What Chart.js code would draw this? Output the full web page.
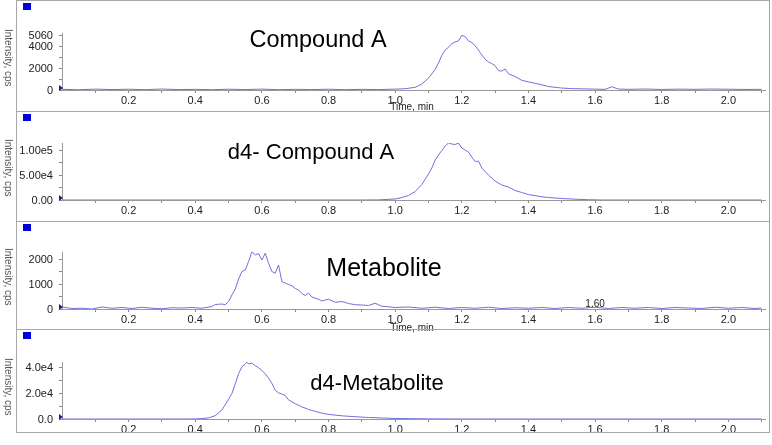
<!DOCTYPE html>
<html>
<head>
<meta charset="utf-8">
<script src="https://cdn.jsdelivr.net/npm/chart.js@4.4.1/dist/chart.umd.min.js"></script>
<style>
  body { margin: 0; background: #fff; }
  #wrap { position: relative; width: 772px; height: 445px; }
  #wrap canvas { position: absolute; left: 0; }
  .ylab { position: absolute; font: 11px 'Liberation Sans', Arial, sans-serif; line-height: 11px; color: #222; white-space: nowrap; }
  .ycap { position: absolute; left: 3px; width: 11px; font: 10px 'Liberation Sans', Arial, sans-serif; line-height: 11px; color: #555; writing-mode: vertical-rl; text-align: center; white-space: nowrap; }
</style>
</head>
<body>
<div id="wrap">
  <canvas id="p1" width="772" height="112" style="top:0px"></canvas>
  <canvas id="p2" width="772" height="112" style="top:111px"></canvas>
  <canvas id="p3" width="772" height="112" style="top:221px"></canvas>
  <canvas id="p4" width="772" height="104" style="top:329px"></canvas>
</div>
<script>
// x axis ticks (minutes), shared by all panels
const xTickValues = [0.1, 0.2, 0.3, 0.4, 0.5, 0.6, 0.7, 0.8, 0.9, 1.0, 1.1, 1.2, 1.3, 1.4, 1.5, 1.6, 1.7, 1.8, 1.9, 2.0, 2.1];
const xTickLabels = ['', '0.2', '', '0.4', '', '0.6', '', '0.8', '', '1.0', '', '1.2', '', '1.4', '', '1.6', '', '1.8', '', '2.0', ''];

// Compound A
const compoundATimes = [0.00, 0.05, 0.10, 0.15, 0.20, 0.25, 0.30, 0.35, 0.40, 0.45, 0.50, 0.55, 0.60, 0.65, 0.70, 0.75, 0.80, 0.85, 0.90, 0.95, 1.00, 1.03, 1.06, 1.08, 1.10, 1.12, 1.13, 1.14, 1.15, 1.16, 1.17, 1.18, 1.19, 1.20, 1.21, 1.22, 1.23, 1.24, 1.25, 1.26, 1.27, 1.28, 1.29, 1.30, 1.31, 1.32, 1.33, 1.34, 1.36, 1.38, 1.40, 1.42, 1.44, 1.46, 1.48, 1.50, 1.53, 1.56, 1.60, 1.63, 1.65, 1.67, 1.70, 1.75, 1.80, 1.85, 1.90, 1.95, 2.00, 2.05, 2.10];
const compoundAValues = [60, 30, 80, 40, 70, 30, 90, 40, 60, 30, 70, 40, 80, 30, 60, 40, 70, 30, 60, 40, 80, 120, 250, 550, 1100, 1900, 2500, 3200, 3700, 3950, 4300, 4450, 4550, 5060, 4950, 4550, 4400, 4100, 3700, 3250, 2850, 2600, 2450, 2250, 1800, 1750, 1950, 1500, 1250, 900, 750, 620, 480, 320, 250, 180, 130, 110, 80, 60, 300, 90, 60, 90, 50, 80, 60, 90, 70, 50, 60];
const compoundATicks = [0, 1000, 2000, 3000, 4000, 5060];
const compoundALabels = ['0', '', '2000', '', '4000', '5060'];

// d4- Compound A
const d4CompoundATimes = [0.00, 0.10, 0.20, 0.30, 0.40, 0.50, 0.60, 0.70, 0.80, 0.90, 0.95, 1.00, 1.02, 1.04, 1.06, 1.08, 1.10, 1.11, 1.12, 1.13, 1.14, 1.15, 1.16, 1.17, 1.18, 1.19, 1.20, 1.21, 1.22, 1.23, 1.24, 1.25, 1.26, 1.28, 1.30, 1.32, 1.34, 1.36, 1.38, 1.40, 1.43, 1.46, 1.50, 1.54, 1.58, 1.62, 1.70, 1.80, 1.90, 2.00, 2.10];
const d4CompoundAValues = [0, 0, 0, 0, 0, 0, 0, 0, 0, 0, 300, 2000, 5000, 9000, 17000, 31000, 52000, 64000, 80000, 90000, 99000, 108000, 114000, 112000, 111000, 114000, 104000, 100000, 96000, 86000, 77000, 78000, 64000, 50000, 38000, 30000, 26000, 19000, 15000, 11000, 7500, 5000, 3000, 1600, 600, 0, 0, 0, 0, 0, 0];
const d4CompoundATicks = [0, 25000, 50000, 75000, 100000];
const d4CompoundALabels = ['0.00', '', '5.00e4', '', '1.00e5'];

// Metabolite
const metaboliteTimes = [0.00, 0.03, 0.06, 0.09, 0.12, 0.15, 0.18, 0.21, 0.24, 0.27, 0.30, 0.33, 0.36, 0.39, 0.42, 0.45, 0.46, 0.47, 0.48, 0.49, 0.50, 0.51, 0.52, 0.53, 0.54, 0.55, 0.56, 0.57, 0.58, 0.59, 0.60, 0.61, 0.62, 0.63, 0.64, 0.65, 0.66, 0.67, 0.68, 0.69, 0.70, 0.71, 0.72, 0.73, 0.74, 0.75, 0.76, 0.77, 0.78, 0.79, 0.80, 0.82, 0.84, 0.86, 0.88, 0.90, 0.92, 0.94, 0.96, 0.98, 1.00, 1.04, 1.08, 1.12, 1.16, 1.20, 1.24, 1.28, 1.32, 1.36, 1.40, 1.44, 1.48, 1.52, 1.56, 1.60, 1.64, 1.68, 1.72, 1.76, 1.80, 1.84, 1.88, 1.92, 1.96, 2.00, 2.04, 2.08, 2.10];
const metaboliteValues = [80, 20, 30, 0, 80, 30, 60, 20, 70, 30, 10, 50, 40, 60, 30, 100, 180, 190, 200, 170, 300, 560, 800, 1200, 1500, 1560, 1900, 2290, 2160, 2220, 1960, 2230, 1830, 1500, 1430, 1760, 1090, 1040, 980, 930, 820, 760, 620, 540, 640, 480, 430, 390, 320, 360, 390, 270, 300, 220, 170, 160, 140, 230, 110, 90, 60, 80, 30, 70, 20, 60, 30, 70, 20, 50, 30, 60, 20, 60, 30, 70, 20, 60, 30, 60, 20, 60, 40, 20, 70, 30, 60, 20, 40];
const metaboliteTicks = [0, 500, 1000, 1500, 2000];
const metaboliteLabels = ['0', '', '1000', '', '2000'];

// d4-Metabolite
const d4MetaboliteTimes = [0.00, 0.10, 0.20, 0.30, 0.38, 0.40, 0.42, 0.44, 0.46, 0.48, 0.50, 0.51, 0.52, 0.53, 0.54, 0.55, 0.555, 0.56, 0.57, 0.58, 0.59, 0.60, 0.61, 0.62, 0.63, 0.64, 0.65, 0.66, 0.67, 0.68, 0.70, 0.72, 0.74, 0.76, 0.78, 0.80, 0.84, 0.88, 0.92, 0.96, 1.00, 1.05, 1.10, 1.20, 1.40, 1.60, 1.80, 2.00, 2.10];
const d4MetaboliteValues = [0, 0, 0, 0, 0, 100, 300, 900, 2600, 7000, 15500, 20000, 27500, 35500, 41000, 43000, 44600, 43200, 43800, 41800, 40200, 38000, 35500, 32000, 28000, 22500, 20500, 19500, 18500, 15000, 12000, 9500, 7500, 6000, 4600, 3600, 2500, 1800, 1200, 800, 400, 250, 100, 0, 0, 0, 0, 0, 0];
const d4MetaboliteTicks = [0, 10000, 20000, 30000, 40000];
const d4MetaboliteLabels = ['0.0', '', '2.0e4', '', '4.0e4'];

const lineColor = 'rgb(112, 112, 220)';
const frameColor = '#a8a8a8';
const axisFont = { family: 'Liberation Sans, Arial, sans-serif', size: 11 };
const smallFont = '10px Liberation Sans, Arial, sans-serif';

// draws the panel frame, name, x caption and markers
const chromDecor = {
  id: 'chromDecor',
  afterDraw(chart, args, opts) {
    const ctx = chart.ctx;
    const area = chart.chartArea;
    const h = opts.frameHeight;
    const y0 = chart.scales.y.getPixelForValue(0);

    // frame
    ctx.save();
    ctx.strokeStyle = frameColor;
    ctx.lineWidth = 1;
    ctx.beginPath();
    ctx.moveTo(16.5, 0); ctx.lineTo(16.5, h);
    ctx.moveTo(769.5, 0); ctx.lineTo(769.5, h);
    ctx.moveTo(16, 0.5); ctx.lineTo(770, 0.5);
    if (opts.bottomBorder) { ctx.moveTo(16, h - 0.5); ctx.lineTo(770, h - 0.5); }
    ctx.stroke();
    ctx.restore();

    // blue square and start marker
    ctx.save();
    ctx.fillStyle = '#0000dd';
    ctx.fillRect(23, 3, 8, 7);
    ctx.fillStyle = '#20208a';
    ctx.beginPath();
    ctx.moveTo(area.left - 3, y0 - 5);
    ctx.lineTo(area.left + 1, y0 - 2);
    ctx.lineTo(area.left - 3, y0 + 1);
    ctx.closePath();
    ctx.fill();
    ctx.restore();

    // x caption, peak label, compound name
    ctx.save();
    ctx.textAlign = 'center';
    ctx.textBaseline = 'middle';
    ctx.fillStyle = '#222';
    ctx.font = smallFont;
    if (opts.timeLabel) ctx.fillText('Time, min', 412, 107);
    if (opts.peakLabel) ctx.fillText(opts.peakLabel, chart.scales.x.getPixelForValue(1.6), y0 - 5);
    ctx.fillStyle = '#000';
    ctx.font = opts.titleSize + 'px Liberation Sans, Arial, sans-serif';
    ctx.fillText(opts.title, opts.titleX, opts.titleY);
    ctx.restore();
  }
};

// y tick labels and y caption as page text, placed with the chart's y scale
function addYText(chart, canvas, tickValues, tickLabels) {
  const wrap = document.getElementById('wrap');
  const area = chart.chartArea;
  const yScale = chart.scales.y;
  tickValues.forEach((v, i) => {
    if (!tickLabels[i]) return;
    const d = document.createElement('div');
    d.className = 'ylab';
    d.textContent = tickLabels[i];
    d.style.top = (canvas.offsetTop + yScale.getPixelForValue(v) - 5.5) + 'px';
    d.style.right = (772 - (area.left - 9)) + 'px';
    wrap.appendChild(d);
  });
  const cap = document.createElement('div');
  cap.className = 'ycap';
  cap.textContent = 'Intensity, cps';
  cap.style.top = (canvas.offsetTop + area.top - 4) + 'px';
  cap.style.height = (area.bottom - area.top) + 'px';
  wrap.appendChild(cap);
}

function makePanel(id, times, values, yMax, tickValues, tickLabels, layout, decor) {
  const canvas = document.getElementById(id);
  const chart = new Chart(canvas.getContext('2d'), {
    type: 'line',
    data: {
      datasets: [{
        data: times.map((t, i) => ({ x: t, y: values[i] })),
        borderColor: lineColor,
        borderWidth: 1,
        pointRadius: 0,
        tension: 0,
        fill: false,
      }]
    },
    options: {
      responsive: false,
      animation: false,
      devicePixelRatio: 1,
      layout: { padding: { top: layout.top, right: 7, left: 0, bottom: 0 } },
      scales: {
        x: {
          type: 'linear',
          min: 0,
          max: 2.11,
          afterBuildTicks: (scale) => { scale.ticks = xTickValues.map(v => ({ value: v })); },
          afterFit: (scale) => { scale.height = layout.xHeight; },
          ticks: {
            autoSkip: false,
            maxRotation: 0,
            padding: 1,
            color: '#222',
            font: axisFont,
            callback: (v) => xTickLabels[xTickValues.indexOf(v)],
          },
          grid: { drawOnChartArea: false, drawTicks: true, tickLength: 3, color: '#888' },
          border: { display: true, color: '#999' },
        },
        y: {
          min: 0,
          max: yMax,
          afterBuildTicks: (scale) => { scale.ticks = tickValues.map(v => ({ value: v })); },
          afterFit: (scale) => { scale.width = 62; },
          ticks: { display: false, autoSkip: false },
          grid: { drawOnChartArea: false, drawTicks: true, tickLength: 3, color: '#888' },
          border: { display: true, color: '#999' },
        }
      },
      plugins: {
        legend: { display: false },
        tooltip: { enabled: false },
        chromDecor: decor,
      }
    },
    plugins: [chromDecor]
  });
  addYText(chart, canvas, tickValues, tickLabels);
  return chart;
}

makePanel('p1', compoundATimes, compoundAValues, 5280, compoundATicks, compoundALabels,
  { top: 33, xHeight: 22 },
  { title: 'Compound A', titleX: 318, titleY: 41, titleSize: 23.5, timeLabel: true, frameHeight: 112 });

makePanel('p2', d4CompoundATimes, d4CompoundAValues, 114000, d4CompoundATicks, d4CompoundALabels,
  { top: 32, xHeight: 23 },
  { title: 'd4- Compound A', titleX: 311, titleY: 42, titleSize: 22, frameHeight: 112 });

makePanel('p3', metaboliteTimes, metaboliteValues, 2280, metaboliteTicks, metaboliteLabels,
  { top: 31, xHeight: 24 },
  { title: 'Metabolite', titleX: 384, titleY: 48, titleSize: 25, timeLabel: true, peakLabel: '1.60', frameHeight: 112 });

makePanel('p4', d4MetaboliteTimes, d4MetaboliteValues, 44700, d4MetaboliteTicks, d4MetaboliteLabels,
  { top: 33, xHeight: 14 },
  { title: 'd4-Metabolite', titleX: 377, titleY: 55, titleSize: 22, bottomBorder: true, frameHeight: 104 });
</script>
</body>
</html>
